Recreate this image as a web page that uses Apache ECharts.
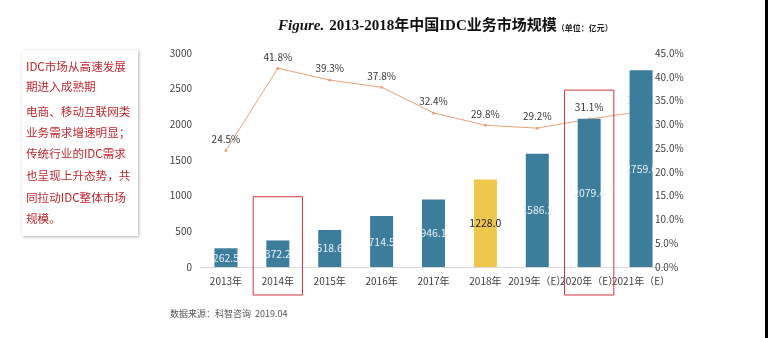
<!DOCTYPE html>
<html><head><meta charset="utf-8">
<script src="https://cdn.jsdelivr.net/npm/echarts@6/dist/echarts.min.js"></script>
<style>html,body{margin:0;padding:0;background:#fff}#c{width:768px;height:338px}</style>
</head><body><div id="c"></div>
<script>
var categories = ['2013年','2014年','2015年','2016年','2017年','2018年','2019年（E）','2020年（E）','2021年（E）'];
var marketSize = [262.5, 372.2, 518.6, 714.5, 946.1, 1228.0, 1586.2, 2079.4, 2759.6];
var growthRate = [24.5, 41.8, 39.3, 37.8, 32.4, 29.8, 29.2, 31.1, 32.7];
var leftTicks = [0, 3000, 500];
var rightTicks = [0, 45, 5];
var noteLines = ['IDC市场从高速发展','期进入成熟期','电商、移动互联网类','业务需求增速明显；','传统行业的IDC需求','也呈现上升态势，共','同拉动IDC整体市场','规模。'];
var highlighted = [{cat:'2014年', top:985}, {cat:'2020年（E）', top:2480}];

var chart = echarts.init(document.getElementById('c'));
var font = '"Microsoft YaHei","Noto Sans CJK SC",sans-serif';
var noteGraphics = noteLines.map(function(t, i){
  var y = [68,88,113,134,155,177,199,220][i];
  return {type:'text', left:26, top:y-7, style:{text:t, fill:'#c1272d', font:'11.6px '+font}};
});

var option = {
  animation:false,
  backgroundColor:'#fff',
  grid:{left:200, right:101, top:53, bottom:71},
  title:{
    left:273, top:12,
    text:'{i|Figure.} {b|2013-2018年中国IDC业务市场规模}{s|（单位：亿元）}',
    textStyle:{rich:{
      i:{fontFamily:'"Liberation Serif","DejaVu Serif",serif', fontStyle:'italic', fontWeight:'bold', fontSize:15, color:'#111'},
      b:{fontFamily:'"Liberation Serif","Noto Sans CJK SC",serif', fontWeight:'bold', fontSize:15, color:'#111'},
      s:{fontFamily:font, fontWeight:'bold', fontSize:8, color:'#222', padding:[3,0,0,0]}
    }}
  },
  xAxis:{type:'category', data:categories,
    axisLine:{lineStyle:{color:'#d9d9d9', width:1}}, axisTick:{show:false},
    axisLabel:{color:'#404040', fontSize:10, fontFamily:font, margin:9, interval:0}},
  yAxis:[
    {type:'value', min:leftTicks[0], max:leftTicks[1], interval:leftTicks[2], splitLine:{show:false},
     axisLine:{show:false}, axisTick:{show:false},
     axisLabel:{color:'#404040', fontSize:10, fontFamily:font, margin:8, formatter:function(v){return String(v);}}},
    {type:'value', min:rightTicks[0], max:rightTicks[1], interval:rightTicks[2], splitLine:{show:false},
     axisLine:{show:false}, axisTick:{show:false},
     axisLabel:{color:'#404040', fontSize:10, fontFamily:font, margin:-12, align:'left',
       formatter:function(v){return v.toFixed(1)+'%';}}}
  ],
  series:[
    {type:'bar', data:marketSize.map(function(v,i){
        return i===5 ? {value:v, itemStyle:{color:'#efc74c'}, label:{color:'#222'}} : v;
      }),
     barWidth:23, itemStyle:{color:'#3d7d9c'},
     label:{show:true, position:'inside', color:'#e8f2f8', fontSize:10.5, fontFamily:font,
       formatter:function(p){return p.value.toFixed(1);}}},
    {type:'line', yAxisIndex:1, data:growthRate.map(function(v,i){
        return i===8 ? {value:v, label:{color:'#cfe3ef'}} : v;
      }),
     z:1, symbol:'circle', symbolSize:3,
     lineStyle:{color:'#eba27a', width:1}, itemStyle:{color:'#eba27a'},
     label:{show:true, position:'top', distance:5, color:'#333', fontSize:10, fontFamily:font,
       formatter:function(p){return p.value.toFixed(1)+'%';}}}
  ],
  graphic:[
    {type:'rect', shape:{x:22, y:50, width:116, height:186}, style:{fill:'#fff', shadowBlur:3, shadowOffsetX:1, shadowOffsetY:1, shadowColor:'rgba(0,0,0,0.3)'}},
    {type:'text', left:170, top:309, style:{text:'数据来源：科智咨询  2019.04', fill:'#555', font:'9px '+font}},
    {type:'rect', shape:{x:765, y:0, width:3, height:338}, style:{fill:'#000'}}
  ].concat(noteGraphics)
};
chart.setOption(option);

var c0 = chart.convertToPixel({xAxisIndex:0}, categories[0]);
var c1 = chart.convertToPixel({xAxisIndex:0}, categories[1]);
var band = (c1 - c0) * 0.95;
var boxes = highlighted.map(function(h){
  var cx = chart.convertToPixel({xAxisIndex:0}, h.cat);
  var ty = chart.convertToPixel({yAxisIndex:0}, h.top);
  var by = chart.convertToPixel({yAxisIndex:0}, 0) + 28;
  return {type:'rect', z:100, shape:{x:cx-band/2, y:ty, width:band, height:by-ty},
    style:{fill:'none', stroke:'#d2353a', lineWidth:1}};
});
chart.setOption({graphic: option.graphic.concat(boxes)});
</script></body></html>
